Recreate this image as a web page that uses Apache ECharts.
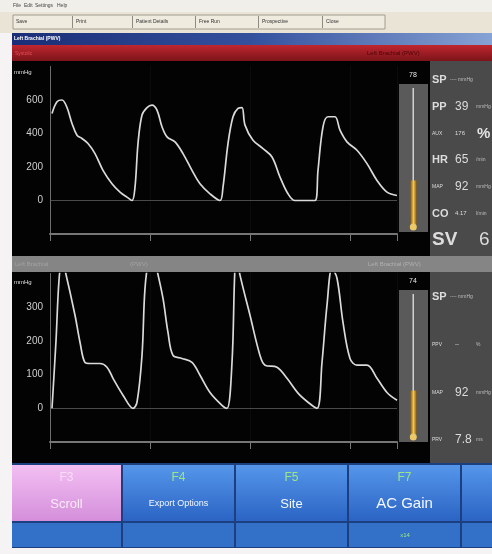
<!DOCTYPE html>
<html lang="en">
<head>
<meta charset="UTF-8">
<title>Pulse wave monitor</title>
<script src="https://cdn.jsdelivr.net/npm/echarts@6/dist/echarts.min.js"></script>
<style>
  html,body{margin:0;padding:0;background:#f6f3f4}
  #chart{width:492px;height:554px}
</style>
</head>
<body>
<div id="chart"></div>
<script>
// upper trace: time (s) / pressure (mmHg)
var topTime = [0.02,0.07,0.12,0.17,0.22,0.27,0.32,0.38,0.45,0.53,0.62,0.70,0.77,0.82,0.85,0.88,0.92,0.97,1.02,1.07,1.12,1.17,1.25,1.33,1.42,1.50,1.60,1.70,1.73,1.78,1.83,1.88,1.92,1.95,2.03,2.13,2.22,2.30,2.38,2.45,2.65,2.68,2.73,2.78,2.85,2.90,2.97,3.07,3.17,3.27,3.37,3.47];
var topPressure = [520,590,600,555,460,390,370,340,280,180,100,50,20,0,80,340,510,555,570,540,440,380,350,280,180,100,40,0,80,340,500,550,555,450,360,310,260,140,40,0,0,180,440,500,500,420,350,300,220,120,50,30];
// lower trace
var lowTime = [0.02,0.06,0.09,0.12,0.15,0.25,0.30,0.35,0.40,0.50,0.57,0.63,0.73,0.83,0.87,0.92,0.95,0.99,1.04,1.07,1.13,1.18,1.23,1.32,1.42,1.50,1.60,1.72,1.77,1.82,1.85,1.87,1.90,2.00,2.10,2.15,2.27,2.37,2.48,2.58,2.67,2.72,2.77,2.82,2.87,2.93,3.00,3.07,3.17,3.27,3.37,3.47];
var lowPressure = [0,200,380,440,410,276,196,136,133,133,122,89,39,0,18,157,356,440,450,410,326,225,157,148,136,98,47,9,0,136,420,445,395,276,157,128,122,89,45,18,0,136,306,415,386,255,148,128,128,89,47,24];
var topTicks = [0,200,400,600];
var lowTicks = [0,100,200,300];
var gaugeLevel = [32, 31];
var gaugeLabel = ['78', '74'];

var topLabels = ['SP','PP','AUX','HR','MAP','CO','SV'];
var topValues = ['','39','176','65','92','4.17','6'];
var topUnits = ['---- mmHg','mmHg','%','/min','mmHg','l/min',''];
var lowLabels = ['SP','PPV','MAP','PRV'];
var lowValues = ['','--','92','7.8'];
var lowUnits = ['---- mmHg','%','mmHg','ms'];

var keyNames = ['F3','F4','F5','F7'];
var keyActions = ['Scroll','Export Options','Site','AC Gain'];
var menuItems = ['File','Edit','Settings','Help'];
var toolItems = ['Save','Print','Patient Details','Free Run','Prospective','Close'];

var FONT = 'Liberation Sans, Arial, sans-serif';
var G = [];
function rect(x, y, w, h, fill, z, stroke) {
    G.push({type:'rect', silent:true, z:z || 0, shape:{x:x, y:y, width:w, height:h},
        style:{fill:fill, stroke:stroke || null, lineWidth:stroke ? 1 : 0}});
}
function text(x, y, s, size, color, align, bold) {
    G.push({type:'text', silent:true, z:20, x:x, y:y,
        style:{text:s, fontSize:size, fontFamily:FONT, fill:color, align:align || 'left',
            verticalAlign:'middle', fontWeight:bold ? 'bold' : 'normal'}});
}
function vgrad(a, b) { return new echarts.graphic.LinearGradient(0, 0, 0, 1, [{offset:0, color:a}, {offset:1, color:b}]); }
function hgrad(stops) { return new echarts.graphic.LinearGradient(0, 0, 1, 0, stops); }

// menu + toolbar
rect(0, 0, 492, 12, '#f1efea');
menuItems.forEach(function (m, i) { text([13, 24, 35, 57][i], 6, m, 5, '#444'); });
rect(0, 12, 492, 21, '#e9e4d5');
rect(13, 15, 372, 14, '#efebdf', 1, '#a09c90');
var sepX = [72, 132, 195, 258, 322];
sepX.forEach(function (x) { rect(x, 16, 1, 12, '#8f8b80', 2); });
toolItems.forEach(function (t, i) { text([16, 76, 136, 199, 262, 326][i], 22, t, 5, '#333'); });

// title bars
rect(12, 33, 480, 12, hgrad([{offset:0, color:'#1b2d76'}, {offset:0.5, color:'#34519e'}, {offset:1, color:'#87a2d4'}]));
text(14, 39, 'Left Brachial (PWV)', 5, '#ffffff', 'left', true);
rect(12, 45, 480, 16, vgrad('#c1262f', '#7a1419'));
text(15, 54, 'Systolic', 5, '#e05058');
text(367, 53, 'Left Brachial (PWV)', 6, '#4a0608');

// black plot areas
rect(12, 61, 418, 195, '#030303');
rect(12, 272, 418, 191, '#030303');
// readout panels
rect(430, 61, 62, 195, '#4a4a4a');
rect(430, 272, 62, 191, '#4a4a4a');
// separator
rect(12, 256, 480, 16, '#858585');
text(15, 264, 'Left Brachial', 6, '#a2a2a2');
text(130, 264, '(PWV)', 6, '#a2a2a2');
text(368, 264, 'Left Brachial (PWV)', 6, '#b0b0b0');

// gauge columns
[[84, 148], [290, 152]].forEach(function (g, i) {
    rect(399, g[0], 29, g[1], '#5a5a5a', 1);
    rect(412.5, g[0] + 4, 1.5, g[1] - 8, '#d0d0d0', 2);
    G.push({type:'circle', silent:true, z:10, shape:{cx:413.3, cy:g[0] + g[1] - 5, r:3.5}, style:{fill:'#edc867'}});
    text(413, g[0] - 9, gaugeLabel[i], 7, '#e8e8e8', 'center');
});

// y axis unit
text(14, 72, 'mmHg', 6, '#e0e0e0');
text(14, 282, 'mmHg', 6, '#e0e0e0');

// readouts
var bigLab = {SP:11, PP:11, HR:11, CO:11, SV:19};
var bigVal = {'39':12, '65':12, '92':12, '6':19, '7.8':12};
function readout(labels, values, units, y0, step) {
    labels.forEach(function (l, i) {
        var y = y0 + i * step;
        var ls = bigLab[l] || 5;
        text(432, y, l, ls, '#dcdcdc', 'left', ls > 5);
        var vs = bigVal[values[i]] || 6;
        if (values[i]) text(l === 'SV' ? 479 : 455, y, values[i], vs, '#dcdcdc', 'left', false);
        if (l === 'AUX') text(477, y, units[i], 15, '#e4e4e4', 'left', true);
        else if (units[i]) text(l === 'SP' ? 450 : 476, y, units[i], 5, '#bdbdbd');
    });
}
readout(topLabels, topValues, topUnits, 80, 26.7);
readout(lowLabels, lowValues, lowUnits, 297, 47.7);

// function keys
rect(12, 463, 480, 85, '#1c3f80');
var keyX = [12, 123, 236, 349, 462];
keyX.forEach(function (x, i) {
    var w = i < 4 ? keyX[i + 1] - x - 2 : 30;
    var pink = i === 0;
    rect(x, 465, w, 56, pink ? vgrad('#f3bff3', '#d48fda') : vgrad('#5596ea', '#2b64c4'), 1);
    rect(x, 523, w, 24, '#3371c9', 1);
    if (i < 4) {
        var cx = x + w / 2;
        text(cx, 478, keyNames[i], 12, pink ? '#f8dcf8' : '#9be882', 'center');
        var fs = [13, 9, 13, 15][i];
        text(cx, 504, keyActions[i], fs, pink ? '#fbeafb' : '#f4f8ff', 'center');
    }
});
text(405, 535, 'x14', 6, '#9be882', 'center');
rect(0, 548, 492, 6, '#f6f3f4');

function pairs(t, p) { return t.map(function (v, i) { return [v, p[i]]; }); }
var zeroLine = {silent:true, symbol:'none', label:{show:false},
    lineStyle:{color:'#4a4a4a', type:'solid', width:1}, data:[{yAxis:0}]};
var axisLab = {color:'#cfcfcf', fontSize:10, fontFamily:FONT, margin:7};

var option = {
    animation: false,
    backgroundColor: '#f6f3f4',
    graphic: {elements: G},
    grid: [
        {left:50, top:66.5, width:347, height:167.5},
        {left:50, top:273.5, width:347, height:168.5},
        {left:410, top:88, width:7, height:136},
        {left:410, top:294, width:7, height:140}
    ],
    xAxis: [0, 1].map(function (i) {
        return {type:'value', gridIndex:i, min:0, max:3.47, interval:1, z:5,
            axisLine:{onZero:false, lineStyle:{color:'#767676', width:2}},
            axisTick:{show:true, length:7, lineStyle:{color:'#767676'}},
            axisLabel:{show:false},
            splitLine:{show:true, lineStyle:{color:'#151515', type:'dotted'}}};
    }).concat([2, 3].map(function (i) {
        return {type:'category', gridIndex:i, data:[''], show:false};
    })),
    yAxis: [
        {type:'value', gridIndex:0, min:-200, max:800, interval:200, z:5,
            axisLine:{show:true, onZero:false, lineStyle:{color:'#6e6e6e'}}, axisTick:{show:false}, splitLine:{show:false},
            axisLabel:Object.assign({formatter:function (v) { return topTicks.indexOf(v) >= 0 ? String(v) : ''; }}, axisLab)},
        {type:'value', gridIndex:1, min:-100, max:400, interval:100, z:5,
            axisLine:{show:true, onZero:false, lineStyle:{color:'#6e6e6e'}}, axisTick:{show:false}, splitLine:{show:false},
            axisLabel:Object.assign({formatter:function (v) { return lowTicks.indexOf(v) >= 0 ? String(v) : ''; }}, axisLab)},
        {type:'value', gridIndex:2, min:0, max:100, show:false},
        {type:'value', gridIndex:3, min:0, max:100, show:false}
    ],
    series: [
        {type:'line', xAxisIndex:0, yAxisIndex:0, data:pairs(topTime, topPressure), smooth:0.35,
            showSymbol:false, clip:true, z:6, lineStyle:{color:'#dadada', width:1.7}, markLine:zeroLine},
        {type:'line', xAxisIndex:1, yAxisIndex:1, data:pairs(lowTime, lowPressure), smooth:0.35,
            showSymbol:false, clip:true, z:6, lineStyle:{color:'#dadada', width:1.7}, markLine:zeroLine}
    ].concat([0, 1].map(function (i) {
        return {type:'bar', xAxisIndex:2 + i, yAxisIndex:2 + i, data:[gaugeLevel[i]], barWidth:6, z:6,
            itemStyle:{color:hgrad([{offset:0, color:'#8c5e12'}, {offset:0.5, color:'#f2c54a'}, {offset:1, color:'#8c5e12'}])}};
    }))
};
var chart = echarts.init(document.getElementById('chart'));
chart.setOption(option);
</script>
</body>
</html>
